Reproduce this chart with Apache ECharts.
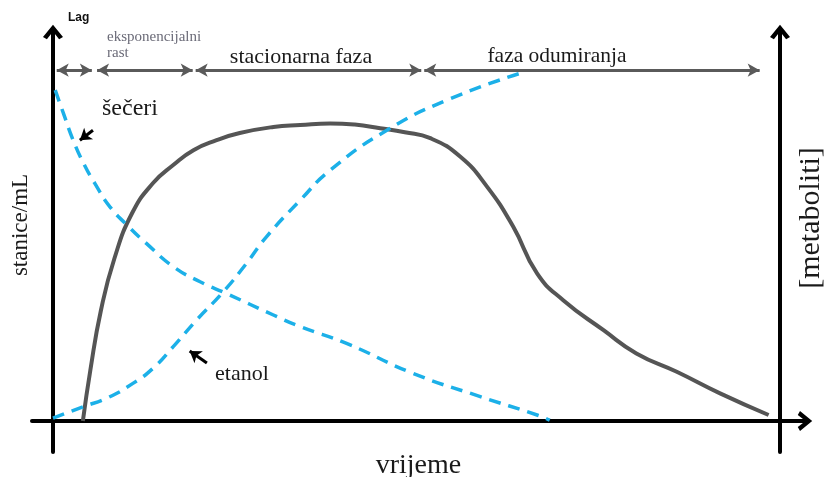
<!DOCTYPE html>
<html>
<head>
<meta charset="utf-8">
<script src="https://cdn.jsdelivr.net/npm/echarts@6/dist/echarts.min.js"></script>
<style>
html, body { margin: 0; padding: 0; background: #fff; }
#chart { width: 826px; height: 477px; }
</style>
</head>
<body>
<div id="chart"></div>
<script>
// stanice/mL (solid grey curve)
var staniceX = [4.0, 5.0, 6.4, 8.2, 10.6, 13.4, 16.1, 18.8, 21.9, 25.0, 29.5, 33.1, 37.1, 40.4, 43.8, 47.1, 50.5, 54.5, 58.1, 61.6, 64.8, 68.3, 73.7, 78.1, 83.5, 89.3, 95.8];
var staniceY = [0, 12.7, 27.5, 40.5, 52.0, 59.5, 64.0, 67.7, 70.2, 72.0, 73.5, 74.0, 74.4, 74.1, 73.2, 72.2, 70.7, 66.1, 58.6, 48.6, 36.9, 30.2, 22.7, 16.9, 12.3, 6.9, 1.5];

// šečeri (dashed, falling)
var seceriX = [0.3, 1.4, 2.7, 4.1, 5.6, 7.6, 9.9, 12.5, 16.1, 19.7, 23.2, 29.5, 33.1, 39.3, 48.2, 57.2, 64.8, 66.5];
var seceriY = [82.7, 76.9, 70.2, 64.4, 59.4, 53.6, 49.0, 44.4, 38.6, 34.8, 31.9, 26.5, 23.6, 19.4, 11.9, 6.1, 1.5, 0.2];

// etanol (dashed, rising)
var etanolX = [0, 4.1, 7.2, 10.7, 13.4, 16.1, 19.2, 22.8, 25.9, 28.6, 33.1, 37.1, 44.7, 52.7, 62.5];
var etanolY = [0.7, 3.6, 5.7, 9.4, 13.2, 18.6, 25.2, 32.3, 39.4, 46.1, 55.2, 62.7, 72.7, 80.2, 86.9];

// growth phases along the top
var phaseNames = ['Lag', 'eksponencijalni\nrast', 'stacionarna faza', 'faza odumiranja'];
var phaseStart = [0.5, 5.9, 19.1, 49.7];
var phaseEnd = [5.2, 18.7, 49.3, 94.6];
var phaseLevel = 87.7;

function pairs(xs, ys) {
	var out = [];
	for (var i = 0; i < xs.length; i++) out.push([xs[i], ys[i]]);
	return out;
}

var chevron = 'path://M0,11 L9,0 L18,11 L14.5,13 L9,6 L3.5,13 Z';
var serif = '"Liberation Serif", "DejaVu Serif", serif';

var phaseLines = [];
for (var i = 0; i < phaseStart.length; i++) {
	phaseLines.push([{ coord: [phaseStart[i], phaseLevel] }, { coord: [phaseEnd[i], phaseLevel] }]);
}

var chart = echarts.init(document.getElementById('chart'));
var option = {
	animation: false,
	backgroundColor: '#fff',
	grid: { left: 32, right: 21, top: 32, bottom: 25, containLabel: false, outerBoundsMode: 'none' },
	xAxis: {
		type: 'value',
		min: -2.81,
		max: 100.67,
		name: 'vrijeme',
		nameLocation: 'middle',
		nameGap: 0,
		nameTextStyle: { fontFamily: serif, fontSize: 28, color: '#1a1a1a' },
		axisLine: { onZero: true, lineStyle: { color: '#000', width: 4 }, symbol: ['none', chevron], symbolSize: [20, 16] },
		axisTick: { show: false },
		axisLabel: { show: false },
		splitLine: { show: false }
	},
	yAxis: [
		{
			type: 'value',
			min: -7.75,
			max: 97.25,
			axisLine: { onZero: true, lineStyle: { color: '#000', width: 4 }, symbol: ['none', chevron], symbolSize: [20, 16] },
			axisTick: { show: false },
			axisLabel: { show: false },
			splitLine: { show: false }
		},
		{
			type: 'value',
			position: 'right',
			offset: -25,
			min: -7.75,
			max: 97.25,
			axisLine: { show: true, onZero: false, lineStyle: { color: '#000', width: 4 }, symbol: ['none', chevron], symbolSize: [20, 16] },
			axisTick: { show: false },
			axisLabel: { show: false },
			splitLine: { show: false }
		}
	],
	series: [
		{
			name: 'stanice',
			type: 'line',
			smooth: 0.5,
			symbol: 'none',
			lineStyle: { color: '#555', width: 4 },
			data: pairs(staniceX, staniceY),
			markLine: {
				silent: true,
				symbol: ['arrow', 'arrow'],
				symbolSize: [10, 12],
				label: { show: false },
				lineStyle: { color: '#5a5a5a', width: 3, type: 'solid' },
				data: phaseLines
			}
		},
		{
			name: 'šečeri',
			type: 'line',
			smooth: 0.5,
			symbol: 'none',
			lineStyle: { color: '#1cb0e8', width: 3.5, type: [12, 8] },
			data: pairs(seceriX, seceriY),
			markLine: {
				silent: true,
				symbol: ['none', 'arrow'],
				symbolSize: [11, 11],
				label: { show: false },
				lineStyle: { color: '#000', width: 3, type: 'solid' },
				data: [[{ coord: [5.35, 72.7] }, { coord: [3.6, 70.2] }]]
			}
		},
		{
			name: 'etanol',
			type: 'line',
			smooth: 0.5,
			symbol: 'none',
			lineStyle: { color: '#1cb0e8', width: 3.5, type: [12, 8] },
			data: pairs(etanolX, etanolY),
			markLine: {
				silent: true,
				symbol: ['none', 'arrow'],
				symbolSize: [11, 11],
				label: { show: false },
				lineStyle: { color: '#000', width: 3, type: 'solid' },
				data: [[{ coord: [20.6, 14.5] }, { coord: [18.3, 17.5] }]]
			}
		}
	],
	graphic: [
		{ type: 'text', left: 68, top: 12, style: { text: phaseNames[0], font: 'bold 12px "Liberation Sans", Arial, sans-serif', fill: '#111' } },
		{ type: 'text', left: 107, top: 29, style: { text: phaseNames[1], font: '15px ' + serif, fill: '#6b6b78', lineHeight: 16 } },
		{ type: 'text', style: { text: phaseNames[2], x: 301, y: 57, align: 'center', verticalAlign: 'middle', font: '22px ' + serif, fill: '#1a1a1a' } },
		{ type: 'text', style: { text: phaseNames[3], x: 557, y: 56, align: 'center', verticalAlign: 'middle', font: '21.5px ' + serif, fill: '#1a1a1a' } },
		{ type: 'text', style: { text: 'šečeri', x: 102, y: 109, align: 'left', verticalAlign: 'middle', font: '24px ' + serif, fill: '#1a1a1a' } },
		{ type: 'text', style: { text: 'etanol', x: 215, y: 374, align: 'left', verticalAlign: 'middle', font: '22px ' + serif, fill: '#1a1a1a' } },
		{ type: 'text', x: 21, y: 225, rotation: Math.PI / 2, style: { text: 'stanice/mL', x: 0, y: 0, align: 'center', verticalAlign: 'middle', font: '23px ' + serif, fill: '#1a1a1a' } },
		{ type: 'text', x: 811, y: 218, rotation: Math.PI / 2, style: { text: '[metaboliti]', x: 0, y: 0, align: 'center', verticalAlign: 'middle', font: '30px ' + serif, fill: '#1a1a1a' } }
	]
};
chart.setOption(option);
window.onresize = function() {
	chart.resize();
};
</script>
</body>
</html>
